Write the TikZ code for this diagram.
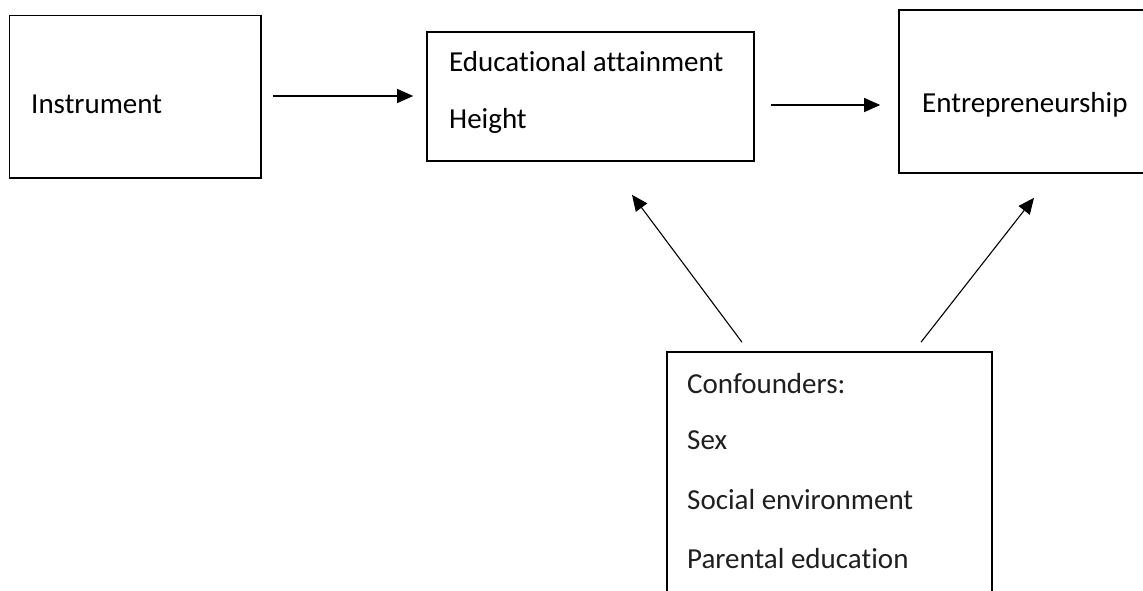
\documentclass[tikz,border=0pt]{standalone}
\usepackage{fontspec}
\setmainfont{Carlito}[Ligatures={NoCommon}]
\usetikzlibrary{arrows.meta,calc}
\begin{document}
\begin{tikzpicture}[x=1pt,y=-1pt,
  box/.style={draw=black,line width=1.6pt,rectangle,inner sep=0pt,fill=none},
  lbl/.style={anchor=base west,inner sep=0pt,font=\fontsize{29}{34}\selectfont,text=black},
  clbl/.style={lbl,text=black!88},
  conn/.style={line width=1.1pt,-{Triangle[length=16pt,width=14pt]}}]
\useasboundingbox (0,0) rectangle (1143,590);
\clip (0,0) rectangle (1143,590);
\fill[white] (0,0) rectangle (1143,590);
% boxes
\node[box,minimum width=251.5pt,minimum height=162.5pt] (inst) at (135.25,96.75) {};
\node[box,minimum width=327pt,minimum height=129pt] (edu) at (590.5,96.5) {};
\node[box,minimum width=251pt,minimum height=163pt] (entre) at (1024.5,91.5) {};
\node[box,minimum width=325pt,minimum height=260pt] (conf) at (829.5,482) {};
% texts
\node[lbl] (tinst) at (31,113) {Instrument};
\node[lbl] (tedu) at (449,71) {Educational attainment};
\node[lbl] (thei) at (449,128) {Height};
\node[lbl] (tent) at (922,112) {Entrepreneurship};
\node[clbl] (tc1) at (687,393) {Confounders:};
\node[clbl] (tc2) at (687,449) {Sex};
\node[clbl] (tc3) at (687,509) {Social environment};
\node[clbl] (tc4) at (687,568) {Parental education};
% connectors
\draw[conn] ($(inst.east)+(11,-0.75)$) -- ($(edu.west)+(-13,-0.5)$);
\draw[conn] ($(edu.east)+(16,8.5)$) -- ($(entre.west)+(-18,13.5)$);
\draw[conn] ($(conf.north)+(-87.5,-9)$) -- ($(edu.south)+(41.5,33)$);
\draw[conn] ($(conf.north)+(91.5,-9)$) -- ($(entre.south)+(9.5,24)$);
\end{tikzpicture}
\end{document}
